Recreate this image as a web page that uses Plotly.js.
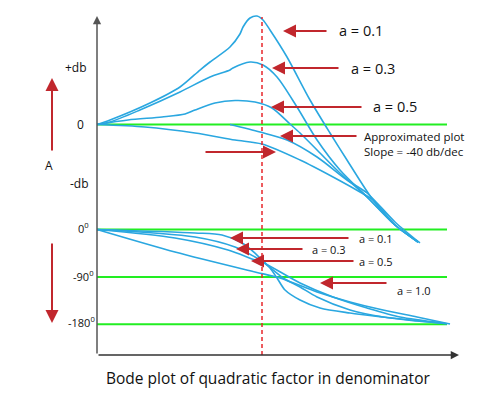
<!DOCTYPE html>
<html>
<head>
<meta charset="utf-8">
<script src="https://cdn.plot.ly/plotly-3.0.1.min.js"></script>
<style>html,body{margin:0;padding:0;background:#fff}</style>
</head>
<body>
<div id="chart" style="width:480px;height:396px"></div>
<script>
// x = log10(w / wn) (schematic)
// Magnitude curves (dB, schematic)
const magX_a01 = [-2, -1.842, -1.358, -0.994, -0.752, -0.630, -0.388, -0.267, -0.230, -0.145, -0.061, 0.012, 0.097, 0.303, 0.582, 0.824, 1.030, 1.345, 1.612, 1.891];
const magY_a01 = [0, 1.55, 7.41, 12.93, 18.79, 21.55, 26.72, 31.21, 33.62, 36.72, 37.41, 36.03, 32.59, 23.28, 8.45, -2.93, -12.24, -26.03, -34.66, -40.52];
const magX_a03 = [-2, -1.842, -1.479, -0.994, -0.630, -0.388, -0.352, -0.145, 0.012, 0.182, 0.424, 0.667, 0.945, 1.273, 1.612, 1.891];
const magY_a03 = [0, 0.86, 5.0, 11.21, 16.38, 18.79, 19.48, 21.55, 20.52, 16.38, 6.03, -5.34, -15.69, -25.0, -34.66, -40.52];
const magX_a05 = [-2, -1.624, -1.212, -0.933, -0.812, -0.570, -0.327, -0.085, 0.121, 0.339, 0.461, 0.703, 0.945, 1.273, 1.612, 1.891];
const magY_a05 = [0, 1.55, 2.59, 3.62, 5.0, 7.41, 8.28, 7.76, 5.69, 0.17, -2.93, -9.83, -16.72, -25.0, -34.66, -40.52];
const magX_a10 = [-2, -1.418, -0.812, -0.327, 0, 0.461, 0.861, 1.188, 1.345, 1.612, 1.891];
const magY_a10 = [0, -0.86, -2.93, -5.34, -6.72, -12.24, -18.1, -23.28, -26.03, -34.66, -40.52];
const magX_approx = [-0.388, -0.024, 0.303, 0.667, 1.030, 1.273, 1.612, 1.915];
const magY_approx = [0, -2.59, -5.34, -11.21, -19.14, -23.62, -33.62, -40.86];

// Phase curves (degrees)
const phX_a01 = [-2, -0.812, -0.485, -0.242, -0.085, 0, 0.097, 0.182, 0.279, 0.461, 0.703, 1.067, 1.467, 1.915, 2.242];
const phY_a01 = [0, -6.6, -10.4, -25.6, -44.7, -57.9, -73.1, -92.1, -114.9, -133.9, -149.1, -158.6, -166.2, -173.8, -179.0];
const phX_a03 = [-2, -0.812, -0.327, -0.085, 0, 0.255, 0.461, 0.667, 1.067, 1.467, 1.879, 2.242];
const phY_a03 = [0, -14.2, -33.2, -52.2, -59.8, -92.1, -109.2, -128.2, -152.9, -166.2, -173.8, -179.0];
const phX_a05 = [-2, -1.055, -0.412, -0.085, 0, 0.461, 0.861, 1.273, 1.673, 2.194];
const phY_a05 = [0, -16.1, -38.9, -57.9, -61.7, -101.6, -128.2, -149.1, -166.2, -177.6];
const phX_a10 = [-2, -1.055, -0.085, 0.218, 0.667, 1.067, 1.467, 1.879, 2.279];
const phY_a10 = [0, -42.7, -80.7, -92.1, -118.7, -137.7, -152.9, -166.2, -179.5];

const phaseRefs = [0, -90, -180];
const magLabels = ['+db', '0', '-db'];
const phaseLabels = ['0<sup>0</sup>', '-90<sup>0</sup>', '-180<sup>0</sup>'];
const magCurveLabels = ['a = 0.1', 'a = 0.3', 'a = 0.5'];
const phaseCurveLabels = ['a = 0.1', 'a = 0.3', 'a = 0.5', 'a = 1.0'];
const approxText = 'Approximated plot<br>Slope = -40 db/dec';
const titleText = 'Bode plot of quadratic factor in denominator';

// ---- mapping helpers (layout) ----
const W = 480, H = 396;
const PX0 = 262, PXD = 82.5;      // pixel of wn, pixels per decade
const PY0 = 124.5, PYDB = 2.9;    // pixel of 0 dB, pixels per dB
const phaseToY = d => (-105 + d * 0.526389) / PYDB;  // phase placed below magnitude
const px = p => p / W;
const py = p => 1 - p / H;

const BLUE = '#2aa7e0', GREEN = '#22ee22', RED = '#c1272d';
const FONT = 'Open Sans, Lato, sans-serif';

function blue(x, y) {
  return {x: x, y: y, type: 'scatter', mode: 'lines', hoverinfo: 'skip',
    line: {color: BLUE, width: 1.6, shape: 'spline', smoothing: 0.8}};
}
const traces = [
  blue(magX_a01, magY_a01), blue(magX_a03, magY_a03), blue(magX_a05, magY_a05),
  blue(magX_a10, magY_a10), blue(magX_approx, magY_approx),
  blue(phX_a01, phY_a01.map(phaseToY)), blue(phX_a03, phY_a03.map(phaseToY)),
  blue(phX_a05, phY_a05.map(phaseToY)), blue(phX_a10, phY_a10.map(phaseToY))
];

const xStart = -2, xEnd = (447 - PX0) / PXD;
const shapes = [];
shapes.push({type: 'line', xref: 'x', yref: 'y', x0: xStart, x1: xEnd, y0: 0, y1: 0,
  line: {color: GREEN, width: 2}, layer: 'below'});
phaseRefs.forEach(d => shapes.push({type: 'line', xref: 'x', yref: 'y', x0: xStart, x1: xEnd,
  y0: phaseToY(d), y1: phaseToY(d), line: {color: GREEN, width: 2}, layer: 'below'}));
// dashed line at wn
shapes.push({type: 'line', xref: 'x', yref: 'paper', x0: 0, x1: 0, y0: py(355), y1: py(17),
  line: {color: '#e8262b', width: 1.5, dash: '4px,3px'}});

const ann = [];
function arrow(hx, hy, tx, ty, color, w, size) {
  ann.push({xref: 'paper', yref: 'paper', x: px(hx), y: py(hy), ax: tx - hx, ay: ty - hy,
    text: '', showarrow: true, arrowhead: 2, arrowsize: size, arrowwidth: w, arrowcolor: color});
}
function label(x, y, text, size, anchor) {
  ann.push({xref: 'paper', yref: 'paper', x: px(x), y: py(y), text: text, showarrow: false,
    xanchor: anchor || 'left', yanchor: 'middle', align: 'left',
    font: {family: FONT, size: size, color: '#111'}});
}
// axes
arrow(97, 16, 97, 355, '#555', 1.5, 1.1);
arrow(459, 355, 97, 355, '#333', 1.5, 1.1);
// left A arrows
arrow(52, 78, 52, 152, RED, 2, 1.3);
arrow(52, 323, 52, 242, RED, 2, 1.3);
// magnitude arrows
arrow(283, 31, 328, 31, RED, 2, 1.3);
arrow(272, 68, 340, 68, RED, 2, 1.3);
arrow(271, 107, 363, 107, RED, 2, 1.3);
arrow(280, 136, 358, 136, RED, 2, 1.3);
arrow(276, 152, 204, 152, RED, 2, 1.3);
// phase arrows
arrow(230, 238, 350, 238, RED, 2, 1.3);
arrow(236, 249, 304, 249, RED, 2, 1.3);
arrow(251, 261, 355, 261, RED, 2, 1.3);
arrow(320, 283, 388, 283, RED, 2, 1.3);

// labels
label(337, 30, magCurveLabels[0], 14.5);
label(349, 68, magCurveLabels[1], 14.5);
label(371, 106, magCurveLabels[2], 14.5);
label(362, 143.5, approxText, 11.5);
label(357, 238, phaseCurveLabels[0], 11);
label(310, 249, phaseCurveLabels[1], 11);
label(357, 261, phaseCurveLabels[2], 11);
label(395, 290, phaseCurveLabels[3], 11);
label(89, 67, magLabels[0], 12, 'right');
label(86, 125, magLabels[1], 12, 'right');
label(91, 183, magLabels[2], 12, 'right');
label(49, 165, 'A', 12, 'center');
label(91, 228, phaseLabels[0], 11, 'right');
label(96, 276, phaseLabels[1], 11, 'right');
label(97, 322, phaseLabels[2], 11, 'right');
label(268, 378, titleText, 15.5, 'center');

const layout = {
  width: W, height: H,
  margin: {l: 0, r: 0, t: 0, b: 0, pad: 0},
  paper_bgcolor: '#fff', plot_bgcolor: '#fff',
  showlegend: false,
  xaxis: {range: [-PX0 / PXD, (W - PX0) / PXD], visible: false, fixedrange: true},
  yaxis: {range: [(PY0 - H) / PYDB, PY0 / PYDB], visible: false, fixedrange: true},
  shapes: shapes,
  annotations: ann
};
Plotly.newPlot('chart', traces, layout, {staticPlot: true, displayModeBar: false});
</script>
</body>
</html>
